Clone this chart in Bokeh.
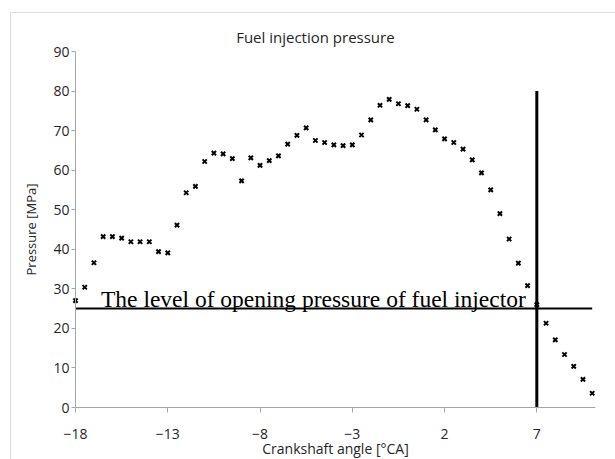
from bokeh.plotting import figure
from bokeh.models import FixedTicker, Range1d, Label, BoxAnnotation
from bokeh.embed import file_html
from bokeh.resources import INLINE

# Crankshaft angle [°CA]
angle = [-18, -17.5, -17, -16.5, -16, -15.5, -15, -14.5, -14, -13.5, -13, -12.5,
         -12, -11.5, -11, -10.5, -10, -9.5, -9, -8.5, -8, -7.5, -7, -6.5, -6,
         -5.5, -5, -4.5, -4, -3.5, -3, -2.5, -2, -1.5, -1, -0.5, 0, 0.5, 1,
         1.5, 2, 2.5, 3, 3.5, 4, 4.5, 5, 5.5, 6, 6.5, 7, 7.5, 8, 8.5, 9, 9.5, 10]
# Pressure [MPa]
pressure = [27.0, 30.4, 36.6, 43.2, 43.2, 42.8, 41.9, 41.9, 41.9, 39.4, 39.1, 46.1,
            54.3, 55.9, 62.2, 64.3, 64.1, 62.9, 57.3, 63.1, 61.2, 62.4, 63.6, 66.6, 68.8,
            70.7, 67.5, 67.0, 66.4, 66.2, 66.4, 68.9, 72.7, 76.4, 77.9, 76.8, 76.3, 75.4, 72.7,
            70.2, 67.9, 67.0, 65.3, 62.6, 59.3, 55.0, 49.0, 42.6, 36.5, 30.8, 26.0,
            21.3, 17.1, 13.4, 10.4, 7.1, 3.6]

x_ticks = [-18, -13, -8, -3, 2, 7]
y_ticks = [0, 10, 20, 30, 40, 50, 60, 70, 80, 90]
x_axis_span = (-18, 10.18)
y_axis_span = (0, 90)

# reference lines
opening_level_x = [-18, 10]
opening_level_y = [25, 25]
marker_angle_x = [7, 7]
marker_angle_y = [0, 80]

W, H = 615, 459
px_per_x = 520 / (x_axis_span[1] - x_axis_span[0])
px_per_y = 356 / (y_axis_span[1] - y_axis_span[0])
x0 = x_axis_span[0] - 75 / px_per_x
y0 = y_axis_span[0] - 52 / px_per_y

p = figure(width=W, height=H, output_backend="svg", toolbar_location=None,
           x_range=Range1d(x0, x0 + W / px_per_x),
           y_range=Range1d(y0, y0 + H / px_per_y),
           min_border=0)
p.outline_line_color = None
p.xgrid.visible = False
p.ygrid.visible = False
p.background_fill_color = "white"
p.border_fill_color = "white"

font = "Open Sans"
for ax in (p.xaxis[0], p.yaxis[0]):
    ax.axis_line_color = "#a6a6a6"
    ax.axis_line_width = 1
    ax.major_tick_line_color = "#a6a6a6"
    ax.minor_tick_line_color = None
    ax.major_tick_in = 0
    ax.major_label_text_font = font
    ax.major_label_text_font_size = "14px"
    ax.major_label_text_color = "#262626"
    ax.axis_label_text_font = font
    ax.axis_label_text_font_style = "normal"
    ax.axis_label_text_color = "#262626"

xa = p.xaxis[0]
ya = p.yaxis[0]
xa.fixed_location = 0
ya.fixed_location = -18
xa.bounds = x_axis_span
ya.bounds = y_axis_span
xa.ticker = FixedTicker(ticks=x_ticks)
ya.ticker = FixedTicker(ticks=y_ticks)
xa.axis_label = "Crankshaft angle [°CA]"
ya.axis_label = "Pressure [MPa]"
xa.axis_label_text_font_size = "14px"
ya.axis_label_text_font_size = "13px"
xa.major_tick_out = 5
ya.major_tick_out = 4
xa.major_label_standoff = 16
ya.major_label_standoff = 2
xa.axis_label_standoff = -3
ya.axis_label_standoff = 10

p.line(opening_level_x, opening_level_y, line_color="black", line_width=2)
p.line(marker_angle_x, marker_angle_y, line_color="black", line_width=3)

p.scatter(angle, pressure, marker="x", size=6, line_color="black", line_width=2)

p.add_layout(Label(x=-16.62, y=27.55, text="The level of opening pressure of fuel injector",
                   text_font="Liberation Serif", text_font_size="23.5px",
                   text_color="black", text_baseline="alphabetic", text_align="left"))

p.add_layout(Label(x=-5.0, y=93.6, text="Fuel injection pressure",
                   text_font=font, text_font_size="15px", text_color="#262626",
                   text_baseline="middle", text_align="center"))

p.add_layout(BoxAnnotation(left=10, top=12, right=900, bottom=900,
                           left_units="canvas", right_units="canvas",
                           top_units="canvas", bottom_units="canvas",
                           fill_color=None, fill_alpha=0, line_color="#8c8c8c",
                           line_width=1))

open("out.html", "w").write(file_html(p, INLINE))
